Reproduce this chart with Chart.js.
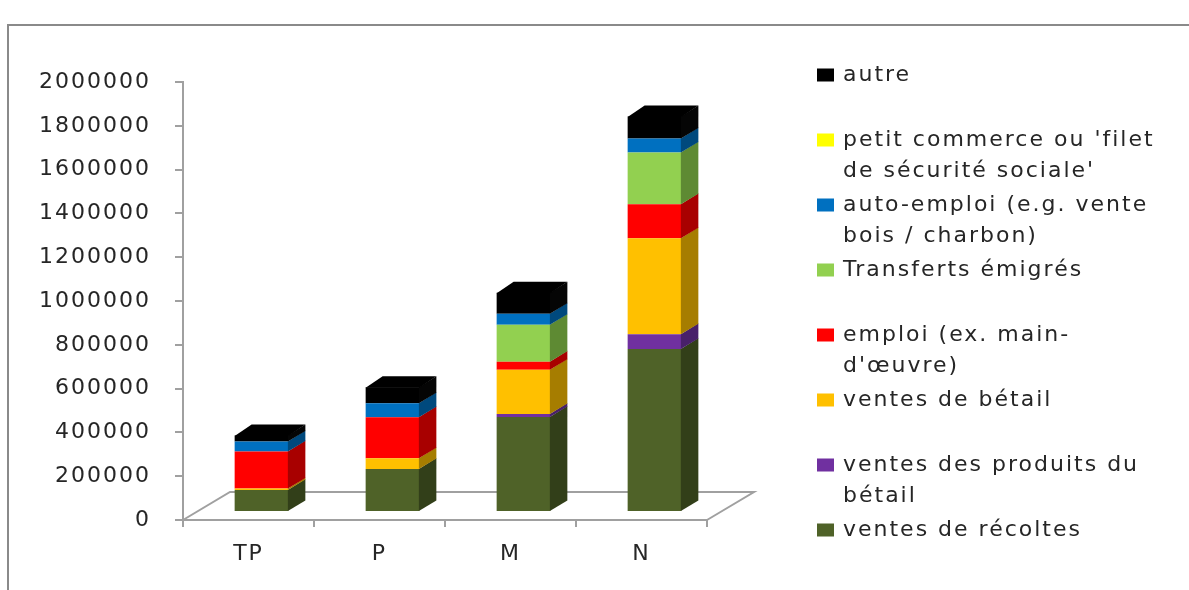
<!DOCTYPE html>
<html>
<head>
<meta charset="utf-8">
<script src="https://cdn.jsdelivr.net/npm/chart.js@4/dist/chart.umd.min.js"></script>
<style>
  html, body { margin: 0; padding: 0; background: #fff; overflow: hidden; }
  canvas { display: block; }
</style>
</head>
<body>
<canvas id="chart" width="1189" height="590"></canvas>
<script>
// Household income by wealth group (TP, P, M, N), stacked by source
const categories = ['TP', 'P', 'M', 'N'];

const ventesRecoltes       = [100000, 196000, 434000, 744000];
const ventesProduitsBetail = [0, 0, 14000, 68000];
const ventesBetail         = [7000, 50000, 201000, 438000];
const emploi               = [169000, 187000, 37000, 155000];
const transfertsEmigres    = [0, 0, 169000, 237000];
const autoEmploi           = [46000, 64000, 50000, 64000];
const petitCommerce        = [0, 0, 0, 0];
const autre                = [27000, 73000, 96000, 100000];

// Stack order, bottom to top
const seriesValues = [ventesRecoltes, ventesProduitsBetail, ventesBetail, emploi,
                      transfertsEmigres, autoEmploi, petitCommerce, autre];
const seriesNames = [
  ['ventes de récoltes'],
  ['ventes des produits du', 'bétail'],
  ['ventes de bétail'],
  ['emploi (ex. main-', "d'œuvre)"],
  ['Transferts émigrés'],
  ['auto-emploi (e.g. vente', 'bois / charbon)'],
  ["petit commerce ou 'filet", "de sécurité sociale'"],
  ['autre']
];
const frontColors = ['#4F6228', '#7030A0', '#FFC000', '#FF0000', '#92D050', '#0070C0', '#FFFF00', '#000000'];
const sideColors  = ['#323F19', '#48206A', '#A67D00', '#A80000', '#5E8A33', '#00497D', '#A6A600', '#050505'];
const topColors   = ['#5F7530', '#8040B0', '#FFD040', '#FF4040', '#A8DC70', '#2088D0', '#FFFF60', '#000000'];

const yMax = 2000000;
const yStep = 200000;

const FONT = "'DejaVu Sans', 'Open Sans', sans-serif";
const FONT_SIZE = 22;
const LETTER_SPACING = '2px';
const TEXT_COLOR = '#262626';
const AXIS_COLOR = '#A0A0A0';

// Oblique projection offsets
const FLOOR_DEPTH = { dx: 47, dy: -28 };  // floor, front edge to back edge
const BAR_SHIFT   = { dx: 13, dy: -8 };   // bars stand behind the floor's front edge
const BAR_DEPTH   = { dx: 17, dy: -11 };  // thickness of each column

const threeD = {
  id: 'threeD',
  beforeUpdate(chart) { chart.ctx.letterSpacing = LETTER_SPACING; },
  beforeDraw(chart) {
    const ctx = chart.ctx;
    ctx.letterSpacing = LETTER_SPACING;
    ctx.save();
    ctx.fillStyle = '#fff';
    ctx.fillRect(0, 0, chart.width, chart.height);
    // outer frame
    ctx.strokeStyle = '#8A8A8A';
    ctx.lineWidth = 2;
    ctx.beginPath();
    ctx.moveTo(8, chart.height + 5);
    ctx.lineTo(8, 25);
    ctx.lineTo(chart.width + 5, 25);
    ctx.stroke();
    ctx.restore();
  },
  beforeDatasetsDraw(chart) {
    const ctx = chart.ctx;
    const { left, right } = chart.chartArea;
    const y0 = chart.scales.y.getPixelForValue(0);
    ctx.save();
    ctx.strokeStyle = AXIS_COLOR;
    ctx.lineWidth = 2;
    ctx.beginPath();
    ctx.moveTo(left, y0);
    ctx.lineTo(left + FLOOR_DEPTH.dx, y0 + FLOOR_DEPTH.dy);
    ctx.lineTo(right + FLOOR_DEPTH.dx, y0 + FLOOR_DEPTH.dy);
    ctx.lineTo(right, y0);
    ctx.stroke();
    ctx.restore();
    // columns are drawn set back into the floor
    ctx.save();
    ctx.translate(BAR_SHIFT.dx, BAR_SHIFT.dy);
  },
  afterDatasetsDraw(chart) {
    const ctx = chart.ctx;
    const datasets = chart.data.datasets;
    for (let j = 0; j < chart.data.labels.length; j++) {
      let topBox = null, topIdx = -1;
      datasets.forEach((ds, i) => {
        if (!ds.data[j]) return;
        const el = chart.getDatasetMeta(i).data[j];
        const { x, y, base, width } = el.getProps(['x', 'y', 'base', 'width'], true);
        const xl = x - width / 2, xr = x + width / 2;
        const t = Math.min(y, base), b = Math.max(y, base);
        ctx.fillStyle = sideColors[i];
        ctx.beginPath();
        ctx.moveTo(xr - 0.5, b);
        ctx.lineTo(xr - 0.5, t);
        ctx.lineTo(xr + BAR_DEPTH.dx, t + BAR_DEPTH.dy);
        ctx.lineTo(xr + BAR_DEPTH.dx, b + BAR_DEPTH.dy + 0.5);
        ctx.closePath();
        ctx.fill();
        topBox = { xl, xr, t };
        topIdx = i;
      });
      if (topBox) {
        ctx.fillStyle = topColors[topIdx];
        ctx.beginPath();
        ctx.moveTo(topBox.xl, topBox.t + 0.5);
        ctx.lineTo(topBox.xl + BAR_DEPTH.dx, topBox.t + BAR_DEPTH.dy);
        ctx.lineTo(topBox.xr + BAR_DEPTH.dx, topBox.t + BAR_DEPTH.dy);
        ctx.lineTo(topBox.xr, topBox.t + 0.5);
        ctx.closePath();
        ctx.fill();
      }
    }
    ctx.restore();
  },
  afterDraw(chart) {
    // legend, top entry = top of the stack
    const ctx = chart.ctx;
    ctx.save();
    ctx.letterSpacing = LETTER_SPACING;
    ctx.font = `${FONT_SIZE}px ${FONT}`;
    ctx.textBaseline = 'middle';
    ctx.textAlign = 'left';
    const order = seriesNames.map((_, i) => i).reverse();
    order.forEach((i, row) => {
      const yc = 75 + row * 65;
      ctx.fillStyle = frontColors[i];
      ctx.fillRect(817, yc - 6.5, 17, 13);
      ctx.fillStyle = TEXT_COLOR;
      seriesNames[i].forEach((line, li) => ctx.fillText(line, 843, yc + li * 31));
    });
    ctx.restore();
  }
};

const chart = new Chart(document.getElementById('chart'), {
  type: 'bar',
  data: {
    labels: categories,
    datasets: seriesValues.map((vals, i) => ({
      label: seriesNames[i].join(' '),
      data: vals,
      backgroundColor: frontColors[i],
      borderWidth: 0,
      barPercentage: 0.41,
      categoryPercentage: 1
    }))
  },
  options: {
    responsive: false,
    animation: false,
    events: [],
    layout: { padding: { left: 0, top: 82, right: 1189 - 707, bottom: 0 } },
    plugins: { legend: { display: false }, tooltip: { enabled: false } },
    scales: {
      x: {
        stacked: true,
        offset: true,
        grid: { display: true, drawOnChartArea: false, drawTicks: true, tickLength: 7, color: AXIS_COLOR, lineWidth: 2, offset: true },
        border: { display: true, color: AXIS_COLOR, width: 2 },
        ticks: { color: TEXT_COLOR, font: { family: FONT, size: FONT_SIZE }, padding: 14 },
        afterFit(scale) { scale.height = 70; }
      },
      y: {
        stacked: true,
        min: 0,
        max: yMax,
        grid: { display: true, drawOnChartArea: false, drawTicks: true, tickLength: 8, color: AXIS_COLOR, lineWidth: 2 },
        border: { display: true, color: AXIS_COLOR, width: 2 },
        ticks: {
          stepSize: yStep,
          color: TEXT_COLOR,
          font: { family: FONT, size: FONT_SIZE },
          padding: 24,
          callback: v => String(v)
        },
        afterFit(scale) { scale.width = 183; }
      }
    }
  },
  plugins: [threeD]
});
</script>
</body>
</html>
